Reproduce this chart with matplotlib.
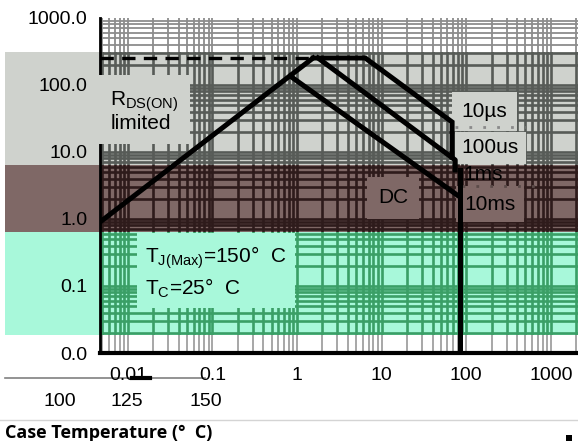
import matplotlib.pyplot as plt
from matplotlib.patches import Rectangle
from matplotlib.lines import Line2D
from matplotlib.ticker import NullLocator
import numpy as np

plt.rcParams['font.family'] = ['Liberation Sans', 'DejaVu Sans']
plt.rcParams['mathtext.fontset'] = 'custom'
plt.rcParams['mathtext.rm'] = 'Liberation Sans'
plt.rcParams['mathtext.it'] = 'Liberation Sans'

# axis ticks
x_ticks = [0.01, 0.1, 1, 10, 100, 1000]
x_labels = ['0.01', '0.1', '1', '10', '100', '1000']
y_ticks = [0.01, 0.1, 1, 10, 100, 1000]
y_labels = ['0.0', '0.1', '1.0', '10.0', '100.0', '1000.0']

# SOA boundaries (V_DS, I_D)
rds_v = [0.0047, 1.55]
rds_i = [0.90, 253]
limit_v = [0.0047, 1.55]
limit_i = [253, 253]
us10_v = [1.55, 6.4, 68, 68]
us10_i = [253, 253, 28, 8.4]
us100_v = [1.77, 74, 74]
us100_i = [253, 7.6, 5.4]
ms1_v = [0.83, 78]
ms1_i = [136, 2.28]
vmax_v = [84, 84]
vmax_i = [5.4, 0.01]

temp_ticks = ['100', '125', '150']

W, H = 578, 441
fig = plt.figure(figsize=(W / 100, H / 100), dpi=100)


def fy(py):
    return 1 - py / H


# coloured background strips
bands = [(52, 165, '#cfd2cd'), (165, 232, '#7f6866'), (232, 335, '#a8f8da')]
for top, bot, face in bands:
    fig.patches.append(Rectangle((5 / W, fy(bot)), 1, (bot - top) / H,
                                 transform=fig.transFigure, facecolor=face,
                                 edgecolor='none', zorder=-5))

ax = fig.add_axes([100 / W, fy(353), 478 / W, 335 / H])
ax.set_zorder(2)
ax.set_facecolor('none')
ax.set_xscale('log')
ax.set_yscale('log')
xlim = (0.0047, 2090)
ylim = (0.01, 1000)
ax.set_xlim(*xlim)
ax.set_ylim(*ylim)

# log grid, coloured per strip
grid_vals = np.array([m * 10.0 ** k for k in range(-3, 4) for m in range(1, 10)])
gx = grid_vals[(grid_vals > xlim[0]) & (grid_vals < xlim[1])]
gy = grid_vals[(grid_vals > ylim[0]) & (grid_vals < ylim[1])]
grid_bands = [(18, 52, '#8c8c8c', 1.3), (52, 165, '#575b57', 1.9),
              (165, 232, '#2e1b1b', 1.9), (232, 335, '#3a9f66', 1.9),
              (335, 353, '#a0a0a0', 1.3)]
for top, bot, col, lw in grid_bands:
    clip = Rectangle((0, fy(bot)), 1, (bot - top) / H, transform=fig.transFigure)
    v = ax.vlines(gx, *ylim, colors=col, lw=lw, zorder=1)
    h = ax.hlines(gy, *xlim, colors=col, lw=lw, zorder=1)
    v.set_clip_path(clip)
    h.set_clip_path(clip)

lw = 3.6
ax.plot(rds_v, rds_i, color='black', lw=lw, zorder=4)
ax.plot(limit_v, limit_i, color='black', lw=2.4, ls=(0, (4, 2.5)), zorder=4)
ax.plot(us10_v, us10_i, color='black', lw=lw, zorder=4, solid_joinstyle='miter')
ax.plot(us100_v, us100_i, color='black', lw=lw, zorder=4)
ax.plot(ms1_v, ms1_i, color='black', lw=lw, zorder=4)
ax.plot(vmax_v, vmax_i, color='black', lw=lw, zorder=4)

ax.set_xticks(x_ticks, x_labels)
ax.set_yticks(y_ticks, y_labels)
ax.xaxis.set_minor_locator(NullLocator())
ax.yaxis.set_minor_locator(NullLocator())
ax.tick_params(length=0, labelsize=14)
ax.tick_params(axis='y', pad=9)
ax.tick_params(axis='x', pad=10)
for s in ['top', 'right']:
    ax.spines[s].set_visible(False)
ax.spines['left'].set_linewidth(2)
ax.spines['bottom'].set_linewidth(3)

grey = '#cfd2cd'
brown = '#7f6866'
green = '#a8f8da'
ax.text(0.0062, 40, 'R$_{\\rm DS(ON)}$\nlimited', fontsize=15, ha='left', va='center',
        linespacing=1.0, zorder=3, bbox=dict(fc=grey, ec='none', pad=8))
ax.text(88, 40, '10µs', fontsize=15, ha='left', va='center', zorder=3,
        bbox=dict(fc=grey, ec='none', pad=7))
ax.text(88, 11.5, '100us', fontsize=15, ha='left', va='center', zorder=3,
        bbox=dict(fc=grey, ec='none', pad=5))
ax.text(92, 4.6, '1ms', fontsize=15, ha='left', va='center', zorder=3)
ax.text(95, 1.67, '10ms', fontsize=15, ha='left', va='center', zorder=3,
        bbox=dict(fc=brown, ec='none', pad=6))
ax.text(13.6, 2.06, 'DC', fontsize=15, ha='center', va='center', zorder=3,
        bbox=dict(fc=brown, ec='none', pad=8))
ax.text(0.016, 0.16, 'T$_{\\rm J(Max)}$=150°  C\nT$_{\\rm C}$=25°  C', fontsize=15,
        ha='left', va='center', linespacing=1.3, zorder=3,
        bbox=dict(fc=green, ec='none', pad=6))
# dotted separators between the pulse labels
ax.plot([74, 495], [23.6, 23.6], color='#8a8a8a', lw=2, ls=(0, (1, 4)), zorder=3)
ax.plot([90, 700], [3.1, 3.1], color='#5a4a48', lw=2, ls=(0, (1, 4)), zorder=3)

# leftover lower panel fragments
for label, px in zip(temp_ticks, [60, 127, 206]):
    fig.text(px / W, fy(401), label, fontsize=14, ha='center', va='center')
fig.add_artist(Line2D([5 / W, 205 / W], [fy(378)] * 2, color='#808080', lw=1.2))
fig.add_artist(Line2D([132 / W, 150 / W], [fy(378)] * 2, color='black', lw=3))
fig.add_artist(Line2D([0, 1], [fy(420)] * 2, color='#d4d4d4', lw=1))
fig.text(5 / W, fy(433), 'Case Temperature (°  C)', fontsize=13, fontweight='bold',
         family=['Open Sans', 'DejaVu Sans'], ha='left', va='center')
fig.patches.append(Rectangle((566 / W, 0), 6 / W, 6 / H, transform=fig.transFigure,
                             facecolor='black', edgecolor='none'))

fig.savefig('out.png', dpi=100)
